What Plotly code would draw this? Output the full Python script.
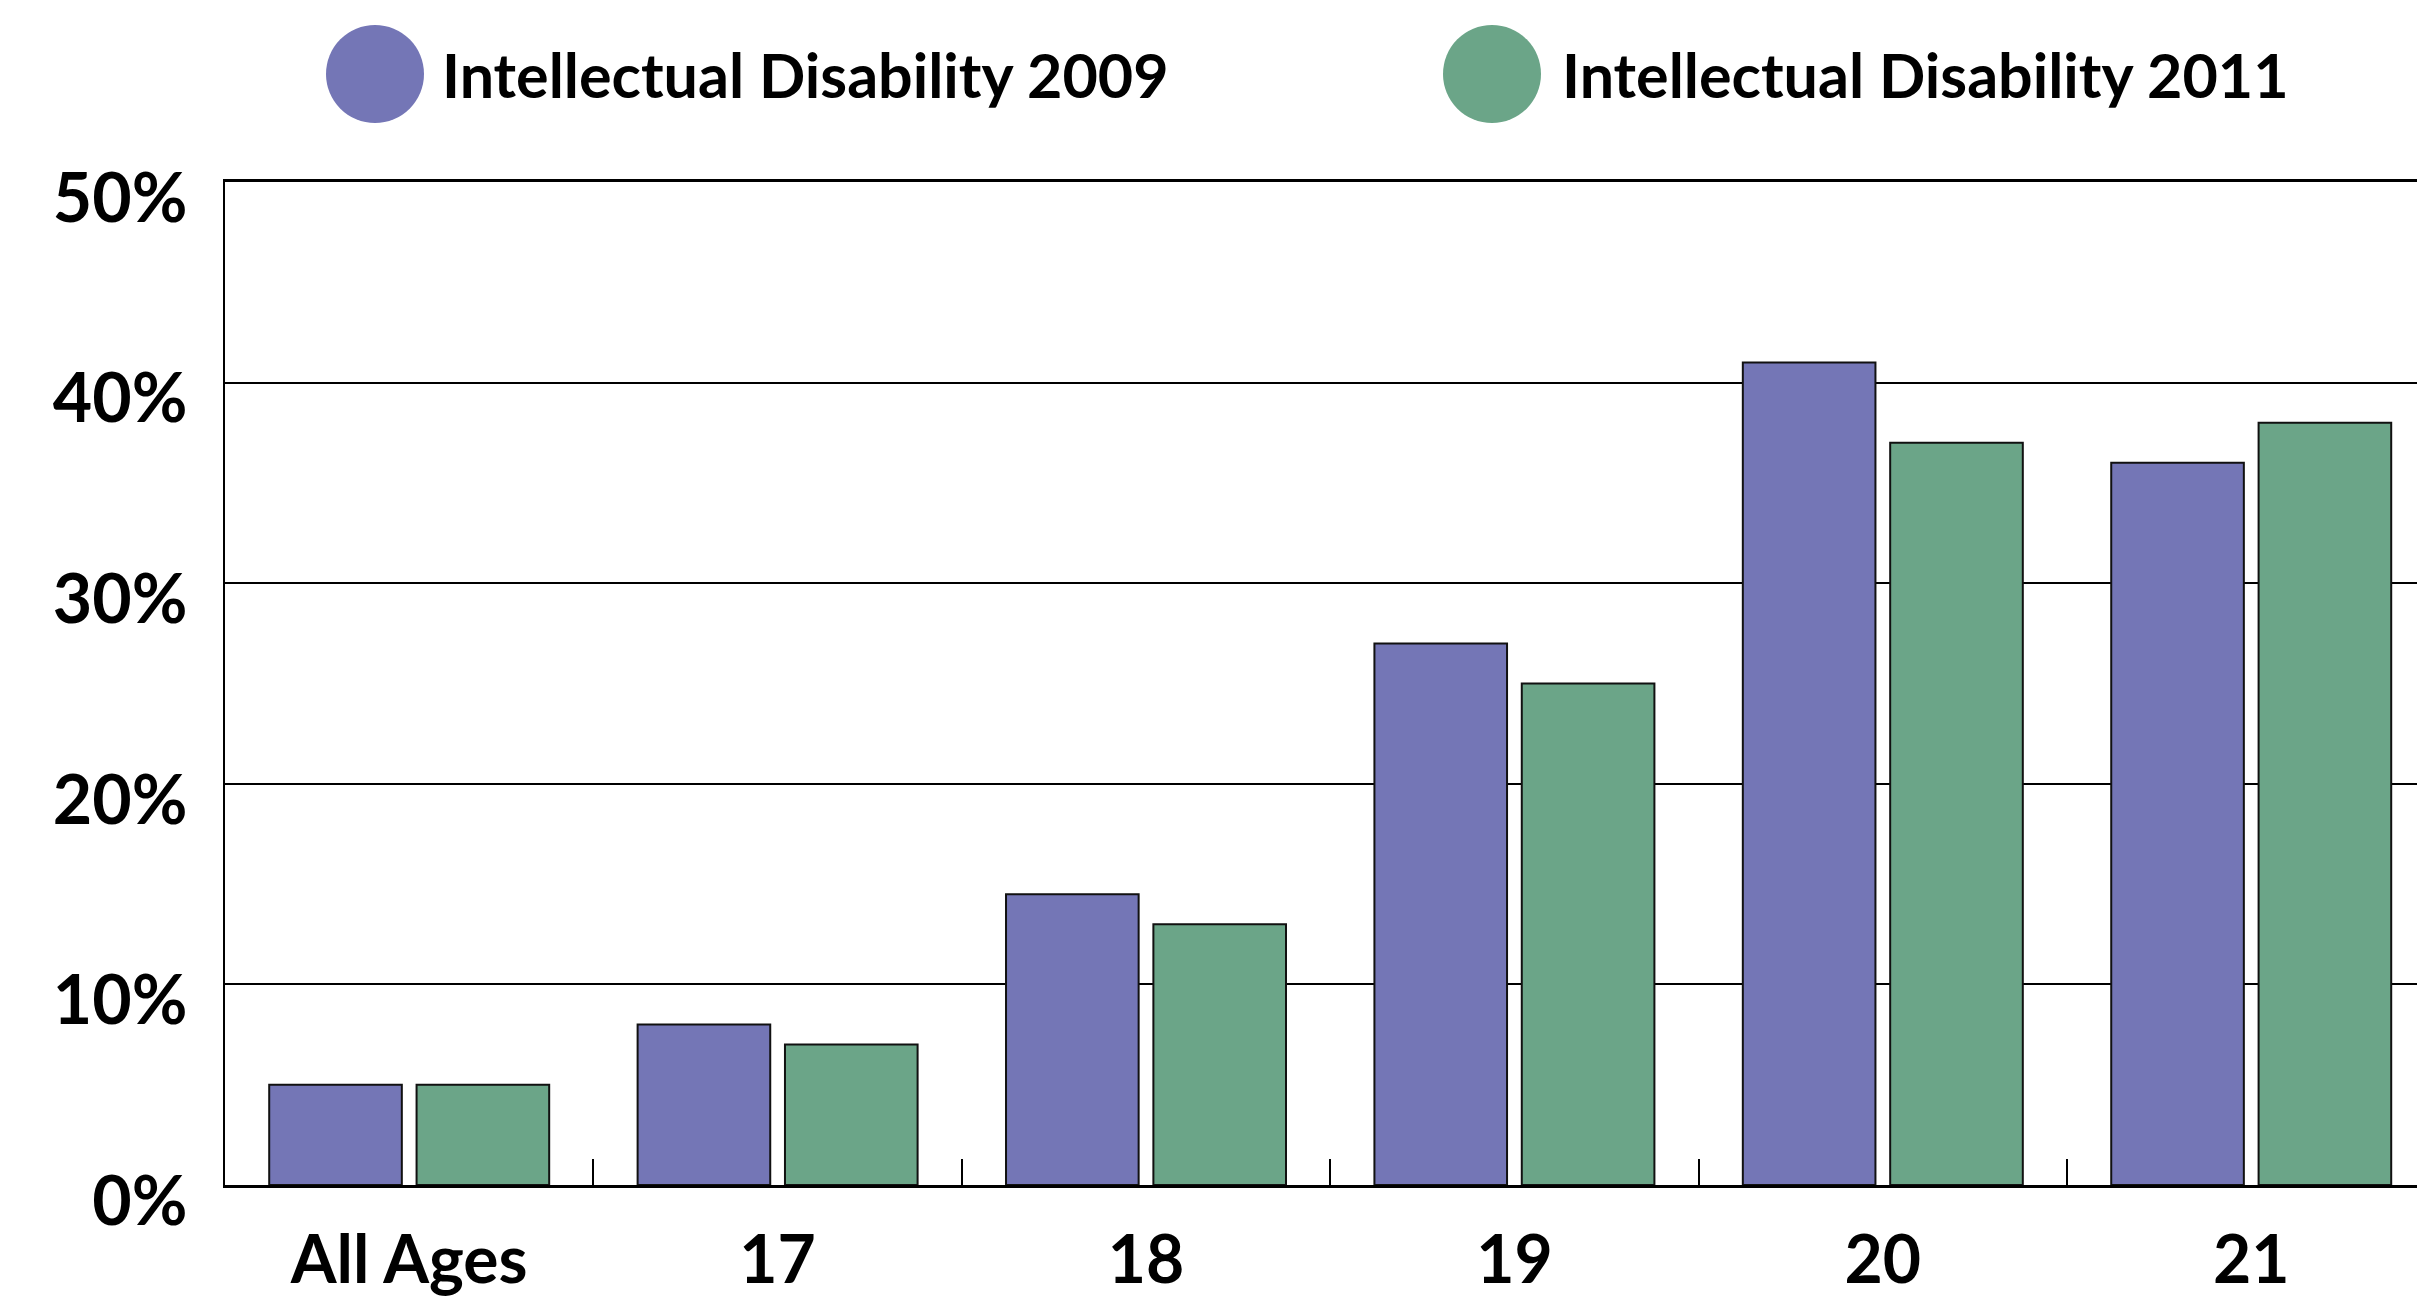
import plotly.graph_objects as go

categories = ["All Ages", "17", "18", "19", "20", "21"]
values_2009 = [5, 8, 14.5, 27, 41, 36]
values_2011 = [5, 7, 13, 25, 37, 38]
series_names = ["Intellectual Disability 2009", "Intellectual Disability 2011"]
y_ticks = [0, 10, 20, 30, 40, 50]
y_tick_labels = ["0%", "10%", "20%", "30%", "40%", "50%"]

purple = "#7476B6"
green = "#6BA588"
font_name = "Lato"

W, H = 2417, 1299
left, top, bottom = 225, 182, 114
plot_w = W - left
plot_h = H - top - bottom

fig = go.Figure()
fig.add_trace(go.Bar(x=categories, y=values_2009, name=series_names[0],
                     marker=dict(color=purple, line=dict(color="#111111", width=2))))
fig.add_trace(go.Bar(x=categories, y=values_2011, name=series_names[1],
                     marker=dict(color=green, line=dict(color="#111111", width=2))))

# legend drawn by hand: big circles + text
def px_x(p):
    return (p - left) / plot_w

def px_y(p):
    return (H - bottom - p) / plot_h

shapes = []
annotations = []
for color, cx, tx, name in [(purple, 375, 440, series_names[0]), (green, 1492, 1560, series_names[1])]:
    shapes.append(dict(type="circle", xref="paper", yref="paper",
                       xsizemode="pixel", ysizemode="pixel",
                       xanchor=px_x(cx), yanchor=px_y(74),
                       x0=-49, x1=49, y0=-49, y1=49,
                       fillcolor=color, line=dict(width=0)))
    annotations.append(dict(x=px_x(tx), y=px_y(74), xref="paper", yref="paper",
                            text=name, showarrow=False, xanchor="left", yanchor="middle",
                            font=dict(family=font_name, size=61, color="black", weight="bold")))

fig.update_layout(
    width=W, height=H,
    margin=dict(l=left, r=0, t=top, b=bottom, pad=0),
    plot_bgcolor="white", paper_bgcolor="white",
    barmode="group", bargap=0.2, bargroupgap=0.1,
    showlegend=False,
    font=dict(family=font_name, color="black", weight="bold"),
    shapes=shapes, annotations=annotations,
    xaxis=dict(range=[-0.5, 5.45], showline=True, mirror=True, linecolor="black", linewidth=3,
               ticks="inside", tickson="boundaries", ticklen=26, tickwidth=2, tickcolor="black",
               ticklabelstandoff=16,
               tickfont=dict(size=66, family=font_name, weight="bold"), showgrid=False, fixedrange=True),
    yaxis=dict(range=[0, 50], tickvals=y_ticks, ticktext=y_tick_labels,
               showline=True, linecolor="black", linewidth=2,
               showgrid=True, gridcolor="black", gridwidth=2, zeroline=False,
               ticks="", ticklabelstandoff=22, ticklabelshift=16,
               tickfont=dict(size=68, family=font_name, weight="bold"), fixedrange=True),
)

fig.write_html("out.html", config={"displayModeBar": False},
               post_script="document.body.style.margin='0';")
